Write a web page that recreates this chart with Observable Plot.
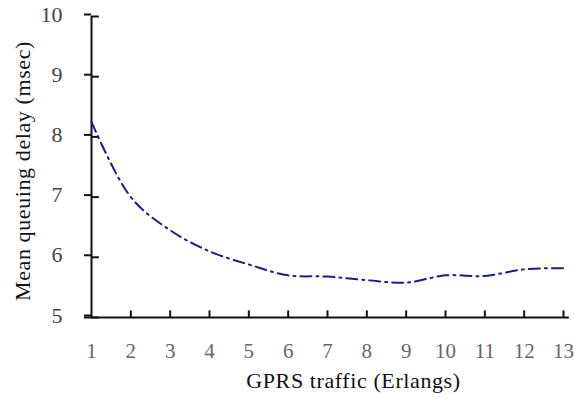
<!DOCTYPE html>
<html>
<head>
<meta charset="utf-8">
<script src="https://cdn.jsdelivr.net/npm/d3@7"></script>
<script src="https://cdn.jsdelivr.net/npm/@observablehq/plot@0.6"></script>
<style>
  body { margin: 0; background: #fff; }
  .ttl { letter-spacing: 0.6px; }
</style>
</head>
<body>
<div id="chart"></div>
<script>
const traffic = [1, 2, 3, 4, 5, 6, 7, 8, 9, 10, 11, 12, 13];
const delay = [8.25, 7.0, 6.45, 6.1, 5.88, 5.7, 5.68, 5.62, 5.58, 5.7, 5.69, 5.8, 5.82];
const xTicks = [1, 2, 3, 4, 5, 6, 7, 8, 9, 10, 11, 12, 13];
const yTicks = [5, 6, 7, 8, 9, 10];
const xTitle = "GPRS traffic (Erlangs)";
const yTitle = "Mean queuing delay (msec)";

const data = traffic.map((t, i) => ({x: t, y: delay[i]}));

const chart = Plot.plot({
  width: 574,
  height: 399,
  marginLeft: 91,
  marginRight: 11,
  marginTop: 16,
  marginBottom: 82,
  style: {fontFamily: "'Liberation Serif', serif", background: "#fff"},
  x: {domain: [1, 13]},
  y: {domain: [5, 10]},
  marks: [
    Plot.axisX({ticks: xTicks, tickSize: 0, tickPadding: 26, fontSize: 21, fill: "#666", label: null, tickFormat: "d"}),
    Plot.axisY({ticks: yTicks, tickSize: 7, tickPadding: 22, fontSize: 22, fill: "#444", stroke: "#111", strokeWidth: 2, label: null, tickFormat: "d", dy: -2}),
    // inward ticks on y
    Plot.ruleY(yTicks, {x1: 1, x2: 1.2, stroke: "#111", strokeWidth: 2}),
    // inward ticks on x
    Plot.ruleX(xTicks.slice(1), {y1: 5, y2: 5.11, stroke: "#111", strokeWidth: 2}),
    // axis lines
    Plot.ruleX([1], {y1: 5, y2: 10, stroke: "#111", strokeWidth: 2}),
    Plot.ruleY([5], {x1: 0.82, x2: 13.15, stroke: "#111", strokeWidth: 2}),
    // data line
    Plot.line(data, {x: "x", y: "y", curve: "catmull-rom", stroke: "#1c1c8a", strokeWidth: 2, strokeDasharray: "11,5,2,5"}),
    // titles
    Plot.text([xTitle], {frameAnchor: "bottom", dy: 70, dx: 26, fontSize: 22, fill: "#111", className: "ttl"}),
    Plot.text([yTitle], {frameAnchor: "left", textAnchor: "middle", rotate: -90, dx: -69, dy: 4, fontSize: 22, fill: "#111", className: "ttl"})
  ]
});
document.getElementById("chart").appendChild(chart);
</script>
</body>
</html>
